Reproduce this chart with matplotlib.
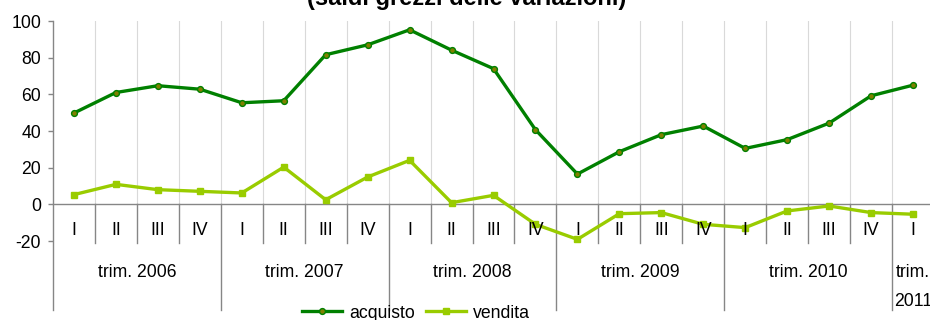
import matplotlib
matplotlib.use("Agg")
import matplotlib.pyplot as plt
from matplotlib.lines import Line2D

plt.rcParams['font.family'] = ['Liberation Sans', 'DejaVu Sans']
plt.rcParams['axes.unicode_minus'] = False

# Quarterly data
quarters = ["I", "II", "III", "IV",
            "I", "II", "III", "IV",
            "I", "II", "III", "IV",
            "I", "II", "III", "IV",
            "I", "II", "III", "IV",
            "I"]
years = ["trim. 2006", "trim. 2007", "trim. 2008", "trim. 2009", "trim. 2010", "trim.\n2011"]
year_sizes = [4, 4, 4, 4, 4, 1]

acquisto = [49.8, 61.0, 64.7, 62.8, 55.4, 56.5, 81.6, 87.0, 95.2, 84.1, 74.0, 40.7,
            16.5, 28.7, 38.0, 42.7, 30.5, 35.3, 44.3, 59.2, 65.0]
vendita = [5.3, 10.9, 8.0, 7.1, 6.2, 20.3, 2.5, 14.9, 24.0, 0.9, 4.9, -10.9,
           -19.1, -5.1, -4.5, -10.9, -12.7, -3.6, -0.9, -4.5, -5.4]

title = "(saldi grezzi delle variazioni)"

C_ACQ = "#008000"
C_ACQ_FACE = "#808000"
C_VEN = "#99CC00"
C_AXIS = "#868686"
C_GRID = "#D9D9D9"
FS = 12.7

W, H = 930, 320
fig = plt.figure(figsize=(W / 100, H / 100), dpi=100)
ax = fig.add_axes([53 / W, 79 / H, 881 / W, 220 / H])

n = len(quarters)
x = list(range(n))
ax.set_xlim(-0.5, n - 0.5)
ax.set_ylim(-20, 100)

# vertical gridlines between quarters (above the zero line)
for k in range(n - 1):
    ax.plot([k + 0.5, k + 0.5], [0, 100], color=C_GRID, lw=0.8, zorder=1)

# series
ax.plot(x, acquisto, color=C_ACQ, lw=2.4, marker='o', markersize=4.2,
        markerfacecolor=C_ACQ_FACE, markeredgecolor=C_ACQ, markeredgewidth=1.0,
        zorder=4, clip_on=False)
ax.plot(x, vendita, color=C_VEN, lw=2.4, marker='s', markersize=4.3,
        markerfacecolor=C_VEN, markeredgecolor=C_VEN, zorder=3, clip_on=False)

# zero line as category axis
ax.plot([-0.5, n + 1], [0, 0], color=C_AXIS, lw=1.0, zorder=2, clip_on=False)

# group boundaries and quarter separators below the zero line
group_edges = [-0.5]
acc = -0.5
for s in year_sizes:
    acc += s
    group_edges.append(acc)
for k in range(n - 1):
    b = k + 0.5
    if b in group_edges:
        continue
    ax.plot([b, b], [0, -21.3], color=C_AXIS, lw=1.0, zorder=2, clip_on=False)
for b in group_edges[1:-1]:
    ax.plot([b, b], [0, -57.8], color=C_AXIS, lw=1.0, zorder=2, clip_on=False)
# left axis line
ax.plot([-0.5, -0.5], [100, -57.8], color=C_AXIS, lw=1.0, zorder=2, clip_on=False)

# quarter labels
for k, q in enumerate(quarters):
    ax.text(k, -14.2, q, ha='center', va='center', fontsize=FS, color='black',
            clip_on=False)

# year labels
start = 0
for lab, s in zip(years, year_sizes):
    cx = start + (s - 1) / 2
    for i, line in enumerate(lab.split("\n")):
        ax.text(cx, -37.0 - 16.2 * i, line, ha='center', va='center',
                fontsize=FS, color='black', clip_on=False)
    start += s

# axes styling
for sp in ax.spines.values():
    sp.set_visible(False)
ax.set_xticks([])
ax.set_yticks([-20, 0, 20, 40, 60, 80, 100])
ax.tick_params(axis='y', direction='out', length=3.6, width=1.0, color=C_AXIS,
               labelsize=FS, pad=5)

# title (partially outside the canvas)
fig.text(467 / W, 1 - 5 / H, title, ha='center', va='baseline',
         fontsize=17, fontweight='bold', color='black')

# legend
handles = [
    Line2D([], [], color=C_ACQ, lw=2.4, marker='o', markersize=4.2,
           markerfacecolor=C_ACQ_FACE, markeredgecolor=C_ACQ),
    Line2D([], [], color=C_VEN, lw=2.4, marker='s', markersize=4.3,
           markerfacecolor=C_VEN, markeredgecolor=C_VEN),
]
fig.legend(handles, ["acquisto", "vendita"], loc='center',
           bbox_to_anchor=(416 / W, 1 - 313 / H), ncol=2, frameon=False,
           fontsize=FS, handlelength=2.3, handletextpad=0.4, columnspacing=0.6,
           borderpad=0, borderaxespad=0)

fig.savefig("out.png", dpi=100)
